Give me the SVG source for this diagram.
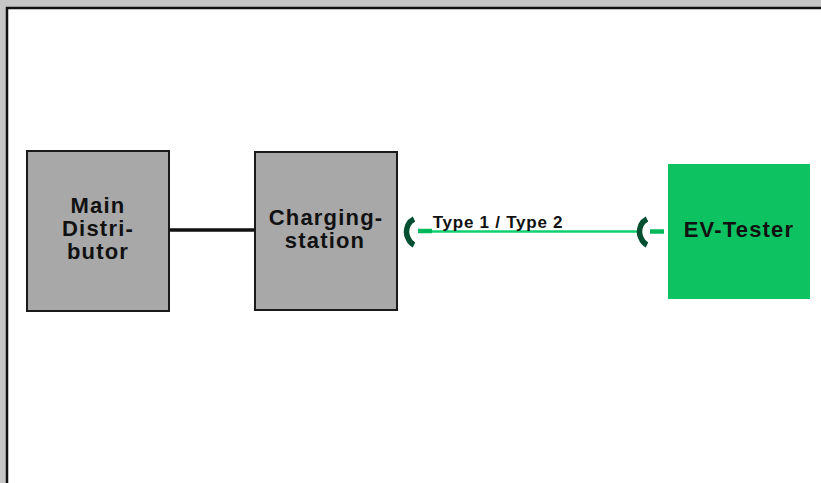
<svg xmlns="http://www.w3.org/2000/svg" width="821" height="483" viewBox="0 0 821 483">
<style>
.box{fill:#a8a8a8;stroke:#1a1a1a;stroke-width:2}
.t{font-family:"Liberation Sans",Arial,sans-serif;font-weight:bold;fill:#111;text-anchor:middle}
.n{font-size:22px;letter-spacing:1.200px}
.plug{fill:none;stroke:#004f30;stroke-width:5.500}
</style>
<rect width="821" height="483" fill="#c6c6c6"/>
<rect x="7" y="8" width="830" height="490" fill="#fff" stroke="#111" stroke-width="2.500"/>
<g id="connectors">
<line x1="169" y1="230" x2="255" y2="230" stroke="#111" stroke-width="3.500"/>
<line x1="418" y1="231" x2="432" y2="231" stroke="#00b85c" stroke-width="4.500"/>
<line x1="432" y1="231.500" x2="640" y2="231.500" stroke="#0fd070" stroke-width="2.500"/>
<line x1="650" y1="231.500" x2="664" y2="231.500" stroke="#00b85c" stroke-width="4.500"/>
<path class="plug" d="M414 219 Q410 221 408 225 Q405 232 408 238 Q410 243 414 245"/>
<path class="plug" d="M647 219 Q643 221 641 225 Q638 232 641 238 Q643 243 647 245"/>
</g>
<g id="main-distributor">
<rect class="box" x="27" y="151" width="142" height="160"/>
<text class="t n" x="98" y="213">Main</text>
<text class="t n" x="98" y="236">Distri-</text>
<text class="t n" x="98" y="259">butor</text>
</g>
<g id="charging-station">
<rect class="box" x="255" y="152" width="142" height="158"/>
<text class="t n" x="326" y="225">Charging-</text>
<text class="t n" x="325" y="248">station</text>
</g>
<g id="ev-tester">
<rect x="668" y="164" width="142" height="135" fill="#0cc261"/>
<text class="t n" x="739" y="237">EV-Tester</text>
</g>
<text class="t" x="498" y="228" font-size="17" letter-spacing="0.750">Type 1 / Type 2</text>
</svg>
